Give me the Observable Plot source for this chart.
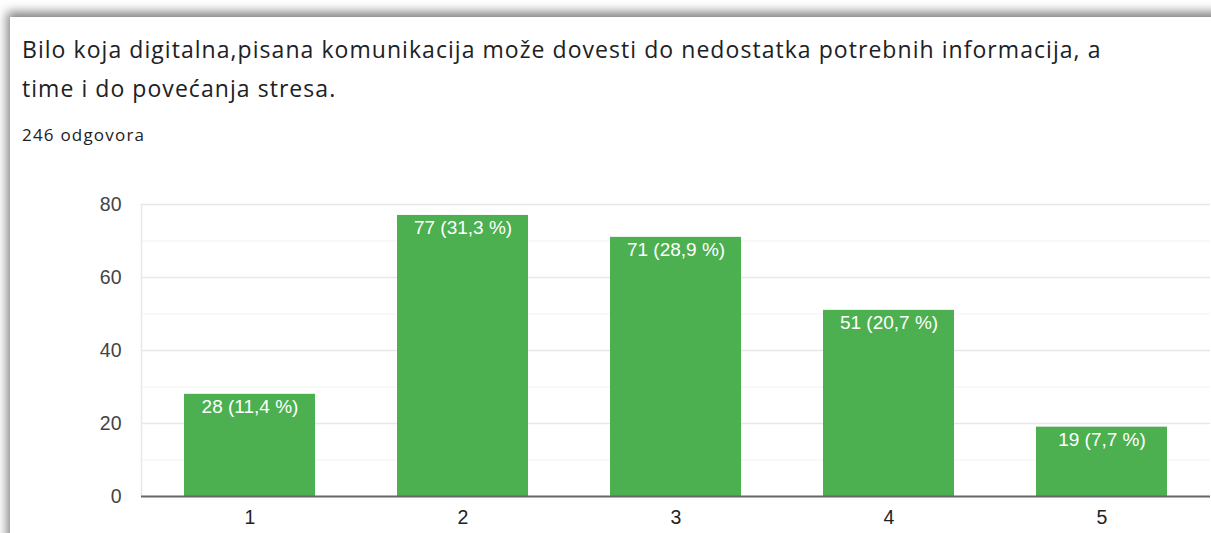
<!DOCTYPE html>
<html>
<head>
<meta charset="utf-8">
<script src="https://cdn.jsdelivr.net/npm/d3@7"></script>
<script src="https://cdn.jsdelivr.net/npm/@observablehq/plot@0.6"></script>
<style>
  html, body { margin: 0; padding: 0; background: #fff; }
  body { width: 1211px; height: 533px; overflow: hidden; position: relative; }
  #card { position: absolute; left: 10px; top: 17px; width: 1400px; height: 800px; background: #fff;
          box-shadow: -3px -5px 10px rgba(0,0,0,0.5); }
  #title { position: absolute; left: 22px; top: 30px; font-family: "Open Sans", Roboto, sans-serif;
           font-size: 23px; letter-spacing: 1.05px; line-height: 39px; color: #202124; white-space: nowrap; }
  #sub { position: absolute; left: 22px; top: 123px; font-family: "Open Sans", Roboto, sans-serif; font-size: 17px;
         letter-spacing: 1.2px; color: #202124; }
  #chart { position: absolute; left: 0; top: 160px; }
</style>
</head>
<body>
<div id="card"></div>
<div id="title">Bilo koja digitalna,pisana komunikacija može dovesti do nedostatka potrebnih informacija, a<br>time i do povećanja stresa.</div>
<div id="sub">246 odgovora</div>
<div id="chart"></div>
<script>
const categories = ["1", "2", "3", "4", "5"];
const counts = [28, 77, 71, 51, 19];
const percentLabels = ["11,4", "31,3", "28,9", "20,7", "7,7"];
const yTicks = [0, 20, 40, 60, 80];
const yMinor = [10, 30, 50, 70];

const data = categories.map((c, i) => ({
  cat: c, n: counts[i], label: `${counts[i]} (${percentLabels[i]} %)`
}));

const chart = Plot.plot({
  width: 1211,
  height: 373,
  marginLeft: 141,
  marginRight: 1,
  marginTop: 44,
  marginBottom: 37,
  style: { fontFamily: "Arial, 'Liberation Sans', sans-serif", background: "transparent" },
  x: { domain: categories, paddingInner: 0.385, paddingOuter: 0.1925, label: null },
  y: { domain: [0, 80], label: null },
  marks: [
    Plot.ruleY(yMinor, { stroke: "#f3f3f3", strokeWidth: 1 }),
    Plot.ruleY(yTicks.filter(d => d > 0), { stroke: "#e8e8e8", strokeWidth: 1.3 }),
    Plot.frame({ anchor: "left", stroke: "#e8e8e8", strokeWidth: 1.5 }),
    Plot.barY(data, { x: "cat", y: "n", fill: "#4caf50" }),
    Plot.ruleY([0], { stroke: "#666", strokeWidth: 2 }),
    Plot.text(data, { x: "cat", y: "n", text: "label", fill: "#fff", lineAnchor: "top", dy: 5,
                      fontSize: 19, fontFamily: "Arial, 'Liberation Sans', sans-serif" }),
    Plot.axisY({ ticks: yTicks, tickSize: 0, tickPadding: 20, fontSize: 19.5, fill: "#444", label: null }),
    Plot.axisX({ tickSize: 0, tickPadding: 14, fontSize: 19.5, fill: "#222", label: null })
  ]
});
document.getElementById("chart").appendChild(chart);
</script>
</body>
</html>
